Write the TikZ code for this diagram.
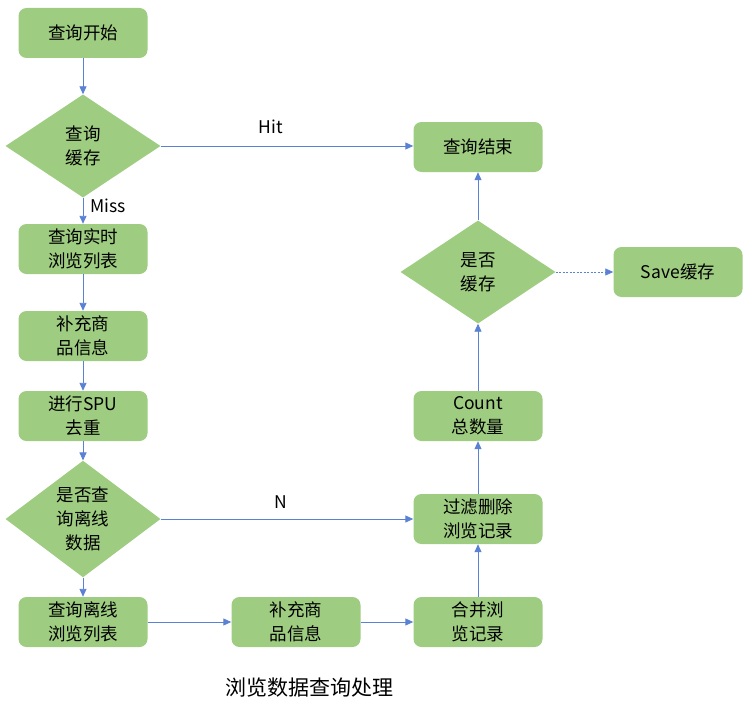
\documentclass[tikz,border=0pt]{standalone}
\usepackage{fontspec}
\setmainfont{Noto Sans CJK SC}
\usetikzlibrary{arrows.meta,shapes.geometric}
\definecolor{boxgreen}{RGB}{158,204,128}
\definecolor{linkblue}{RGB}{90,130,212}

\begin{document}
\begin{tikzpicture}[
        x = 1pt, y = -1pt,
        font = \fontsize{17.5pt}{24pt}\selectfont,
        stepbox/.style = {
            fill = boxgreen,
            rounded corners = 8pt,
            align = center,
            minimum width = 129pt,
            minimum height = 50pt,
            inner sep = 0pt,
        },
        decide/.style = {
            diamond, fill = boxgreen,
            align = center,
            minimum width = 155pt,
            minimum height = 103pt,
            inner sep = 0pt,
        },
        link/.style = {
            draw = linkblue, line width = 0.9pt,
            -{Triangle[length=8pt,width=7pt]},
        },
        ]
        \useasboundingbox (0,0) rectangle (751,706);

        % Linke Spalte
        \node[stepbox] (start) at (83,33) {查询开始};
        \node[decide] (cache) at (83,146) {查询\\缓存};
        \node[stepbox] (realtime) at (83,249) {查询实时\\浏览列表};
        \node[stepbox] (fill_a) at (83,336) {补充商\\品信息};
        \node[stepbox] (dedup) at (83,416) {进行SPU\\去重};
        \node[decide] (offline) at (83,519) {是否查\\询离线\\数据};
        \node[stepbox] (offline_list) at (83,622) {查询离线\\浏览列表};

        % Untere Reihe
        \node[stepbox] (fill_b) at (296,622) {补充商\\品信息};
        \node[stepbox] (merge) at (478,622) {合并浏\\览记录};

        % Rechte Spalte
        \node[stepbox] (filter) at (478,519) {过滤删除\\浏览记录};
        \node[stepbox] (count) at (478,416) {Count\\总数量};
        \node[decide] (save_q) at (478,272) {是否\\缓存};
        \node[stepbox] (finish) at (478,147) {查询结束};
        \node[stepbox] (save) at (678,272) {Save缓存};

        % Titel
        \node[font = \fontsize{21pt}{24pt}\selectfont] (title) at (309,688) {浏览数据查询处理};

        % Uebergaenge
        \draw[link] (start) -- (cache);
        \draw[link] (cache) -- node[right, xshift=4pt, yshift=5pt] {Miss} (realtime);
        \draw[link] (realtime) -- (fill_a);
        \draw[link] (fill_a) -- (dedup);
        \draw[link] (dedup) -- (offline);
        \draw[link] (offline) -- (offline_list);
        \draw[link] (offline_list) -- (fill_b);
        \draw[link] (fill_b) -- (merge);
        \draw[link] (merge) -- (filter);
        \draw[link] (filter) -- (count);
        \draw[link] (count) -- (save_q);
        \draw[link] (save_q) -- (finish);

        \draw[link] (cache.east) -- node[above, yshift=8pt, xshift=-16pt] {Hit} (finish.west |- cache.east);
        \draw[link] (offline.east) -- node[above, yshift=7pt, xshift=-6pt] {N} (filter.west |- offline.east);

        \draw[link, dash pattern = on 2pt off 1.5pt, line width = 0.7pt] (save_q) -- (save);
    \end{tikzpicture}
\end{document}
